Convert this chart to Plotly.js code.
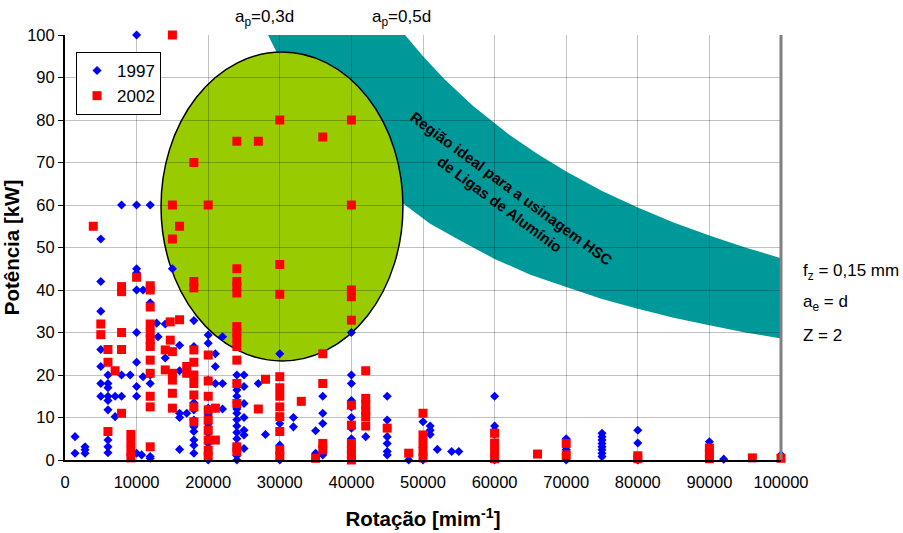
<!DOCTYPE html>
<html>
<head>
<meta charset="utf-8">
<script src="https://cdn.plot.ly/plotly-3.0.1.min.js"></script>
<style>html,body{margin:0;padding:0;background:#fff;}#chart{width:903px;height:533px;}</style>
</head>
<body>
<div id="chart"></div>
<script>
// ---- Data ----
// 1997 series: rotation columns and the power values at each column
const rot1997 = [1400, 2800, 5000, 6000, 7000, 7900, 9100, 10000, 10700, 10900, 11900, 12800, 13000, 14000, 15000, 16000, 17000, 18000, 20000, 21000, 22000, 24000, 25000, 27000, 28000, 30000, 31900, 35000, 36000, 40000, 42000, 45000, 48000, 50000, 51000, 52000, 54000, 55000, 60000, 70000, 75000, 80000, 90000, 92000, 100000];
const pow1997 = [
  [5.5, 1.6], [3.1, 2.4, 1.6], [52, 42, 35, 26, 22, 18, 15], [20, 18, 17, 15, 14, 11.8, 4.7, 3.1, 1.7], [15, 10.2],
  [60, 20, 15], [20], [100, 60, 45, 44, 40, 30, 23, 17.3, 15, 1.6], [1.2], [40, 19.6],
  [60, 40, 37, 20, 18, 0.8, 0.4], [32.2], [29], [32, 24], [45, 20], [27, 21, 11, 10, 2.5], [20.4, 11],
  [32.8, 26.7, 20, 13.5, 12.7, 11.8, 9.4, 7.8, 6.7, 4.7, 3.5, 1.6],
  [29.4, 27.5, 18.8, 14.9, 12.2, 10.6, 8.6, 7.8, 6.3, 3.9, 1.2, 0],
  [25, 22, 18, 12.2], [29, 18, 12],
  [20, 18, 16.5, 15, 13.5, 12, 11, 9.5, 8, 6.5, 5, 3.5, 2, 1, 0],
  [20, 17.3, 13.3, 10, 7, 5.9, 2.7], [18], [6], [25, 8.6, 6.9, 3.5, 1.6, 0], [10, 7.8], [6.9, 1.6], [15, 11, 8.6, 1.2],
  [30, 20, 18, 14, 12.5, 10, 7.5, 5, 3], [5.5], [15, 9.4, 7.6, 5.5, 3.9, 2, 1.2], [0], [9, 0], [8, 7, 6], [2.5], [2], [2],
  [15, 8, 7, 6, 0], [5, 2.5, 0], [6.3, 5.5, 4.7, 3.9, 3.1, 2.4, 1.6, 0.8], [7, 4, 0], [4.3, 1.4], [0.2], [1.2]
];
// 2002 series
const rot2002 = [3950, 5000, 6000, 7000, 7900, 9200, 10000, 11900, 14000, 14700, 15000, 16000, 17000, 18000, 20000, 21000, 24000, 27000, 28000, 30000, 33000, 35000, 36000, 40000, 42000, 45000, 48000, 50000, 60000, 66000, 70000, 80000, 90000, 96000, 100000];
const pow2002 = [
  [55], [32, 29.5], [26, 23, 6.7], [21], [40.8, 39.6, 30, 26, 11], [6, 4, 2, 0.5], [43],
  [41, 40, 36, 32, 30, 28.3, 26.7, 23.5, 20.4, 15, 12.5, 3.1], [25.9, 21.2], [32.5, 28.2],
  [100, 60, 52, 25.5, 20.4, 18.8, 15.7, 12.2], [55, 33], [22, 20.4],
  [70, 42, 40.5, 25.9, 23, 20, 18, 15.3, 12.5, 9], [60, 24.7, 18.6, 15, 11.8, 9.4, 7, 4.7, 2.3, 0.8], [12.2, 4.7],
  [75, 45, 42, 40.8, 39.3, 31.4, 30, 28.7, 26.7, 23.5, 18, 13.3, 3.1, 2], [75, 12], [19],
  [80, 46, 39, 19.6, 17, 15, 12.5, 10.2, 6.7, 2.4, 0.8], [13.8], [0.4], [76, 25, 18, 3.9, 2.4],
  [80, 60, 40, 38.4, 32.9, 12.9, 8.2, 3.9, 2.4, 1.2, 0], [21, 14.5, 13, 11.5, 10.2, 8], [7.5], [1.6],
  [11, 5.9, 3.9, 2, 0.5], [6.3, 4, 2, 0.3], [1.4], [3.9, 1.2], [1, 0.3], [2.8, 1.5, 0.3], [0.5], [0.4]
];
// Ideal region band boundaries (a_p = 0,3d lower, a_p = 0,5d upper)
const lowerX = [28350, 30000, 32000, 34000, 36000, 38000, 40000, 43000, 47500, 51000, 55000, 60000, 65000, 70000, 75000, 80000, 85000, 90000, 95000, 100000];
const lowerY = [100, 94.5, 89, 83.5, 79, 74.7, 71, 66, 60, 55.6, 51.8, 47.3, 43.6, 40.7, 37.9, 35.6, 33.5, 31.7, 30, 28.6];
const upperX = [47500, 50000, 53000, 57000, 62000, 66000, 70000, 75000, 80000, 85000, 90000, 95000, 100000];
const upperY = [100, 95, 89.6, 83.3, 76.6, 72, 67.9, 63.3, 59.4, 55.9, 52.8, 50, 47.5];
// Green ellipse extents (rotation, power)
const ellipseX = [13410, 47200];
const ellipseY = [23.3, 96];
// Tick values
const xTicks = [0, 10000, 20000, 30000, 40000, 50000, 60000, 70000, 80000, 90000, 100000];
const yTicks = [0, 10, 20, 30, 40, 50, 60, 70, 80, 90, 100];

function flatten(cols, vals) {
  const xs = [], ys = [];
  cols.forEach((c, i) => vals[i].forEach(v => { xs.push(c); ys.push(v); }));
  return [xs, ys];
}
const [x97, y97] = flatten(rot1997, pow1997);
const [x02, y02] = flatten(rot2002, pow2002);

// band path built from the boundary arrays
let bandPath = 'M ' + lowerX[0] + ',' + lowerY[0];
for (let i = 1; i < lowerX.length; i++) bandPath += ' L ' + lowerX[i] + ',' + lowerY[i];
for (let i = upperX.length - 1; i >= 0; i--) bandPath += ' L ' + upperX[i] + ',' + upperY[i];
bandPath += ' Z';

const FONT = '"Liberation Sans", Arial, sans-serif';

const traces = [
  { x: x97, y: y97, type: 'scatter', mode: 'markers', name: '1997', cliponaxis: false,
    marker: { symbol: 'diamond', size: 7, color: '#0000FF', line: { width: 0 } } },
  { x: x02, y: y02, type: 'scatter', mode: 'markers', name: '2002', cliponaxis: false,
    marker: { symbol: 'square', size: 9, color: '#FF0000', line: { width: 0 } } }
];

const layout = {
  width: 903, height: 533,
  margin: { l: 65, r: 122, t: 35, b: 73 },
  paper_bgcolor: '#FFFFFF', plot_bgcolor: '#FFFFFF',
  font: { family: FONT, color: '#000000', size: 17 },
  showlegend: true,
  legend: { x: 0.0154, y: 0.96, xanchor: 'left', yanchor: 'top', bgcolor: '#FFFFFF',
            bordercolor: '#000000', borderwidth: 1, font: { size: 17, family: FONT }, itemwidth: 30 },
  xaxis: {
    range: [0, 100000], tickvals: xTicks, ticktext: xTicks.map(String),
    showgrid: true, gridcolor: 'rgba(0,0,0,0.24)', gridwidth: 1,
    zeroline: false, showline: true, linecolor: '#000000', linewidth: 2,
    ticks: '', tickfont: { size: 16.5, family: FONT }, ticklabelstandoff: 6,
    title: { text: 'Rotação [mim<sup>-1</sup>]', font: { size: 20.5, family: FONT, weight: 'bold' }, standoff: 22 }
  },
  yaxis: {
    range: [0, 100], tickvals: yTicks, ticktext: yTicks.map(String),
    showgrid: true, gridcolor: 'rgba(0,0,0,0.24)', gridwidth: 1,
    zeroline: false, showline: true, linecolor: '#000000', linewidth: 2,
    ticks: 'outside', ticklen: 5, tickcolor: '#000000', tickfont: { size: 16.5, family: FONT },
    title: { text: 'Potência [kW]', font: { size: 20.5, family: FONT, weight: 'bold' }, standoff: 8 }
  },
  shapes: [
    { type: 'path', xref: 'x', yref: 'y', path: bandPath, fillcolor: '#009999', line: { width: 0 }, layer: 'below' },
    { type: 'circle', xref: 'x', yref: 'y', x0: ellipseX[0], x1: ellipseX[1], y0: ellipseY[0], y1: ellipseY[1],
      fillcolor: '#99CC00', line: { color: '#000000', width: 1.5 }, layer: 'below' },
    { type: 'line', xref: 'paper', yref: 'paper', x0: 1, x1: 1, y0: 0, y1: 1, line: { color: '#808080', width: 3 }, layer: 'above' }
  ],
  annotations: [
    { xref: 'x', yref: 'paper', x: 27930, y: 1.04, yanchor: 'middle', text: 'a<sub>p</sub>=0,3d', showarrow: false, font: { size: 17, family: FONT } },
    { xref: 'x', yref: 'paper', x: 46930, y: 1.04, yanchor: 'middle', text: 'a<sub>p</sub>=0,5d', showarrow: false, font: { size: 17, family: FONT } },
    { xref: 'paper', yref: 'paper', x: 1.028, y: 0.443, xanchor: 'left', yanchor: 'middle', text: 'f<sub>z</sub> = 0,15 mm', showarrow: false, font: { size: 17, family: FONT } },
    { xref: 'paper', yref: 'paper', x: 1.028, y: 0.369, xanchor: 'left', yanchor: 'middle', text: 'a<sub>e</sub> = d', showarrow: false, font: { size: 17, family: FONT } },
    { xref: 'paper', yref: 'paper', x: 1.028, y: 0.294, xanchor: 'left', yanchor: 'middle', text: 'Z = 2', showarrow: false, font: { size: 17, family: FONT } },
    { xref: 'x', yref: 'y', x: 61530, y: 62, text: 'Região ideal para a usinagem HSC<br>de Ligas de Alumínio', textangle: 36.5,
      showarrow: false, font: { size: 15, family: FONT, weight: 'bold' } }
  ]
};

Plotly.newPlot('chart', traces, layout, { displayModeBar: false, staticPlot: true });
</script>
</body>
</html>
